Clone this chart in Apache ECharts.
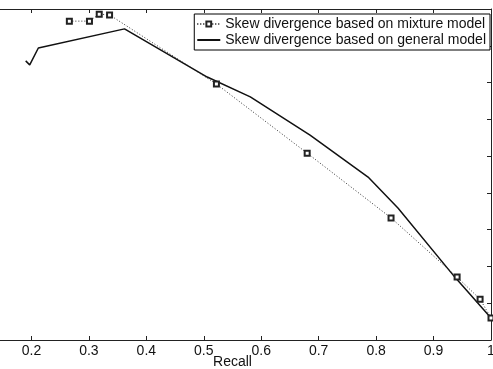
<!DOCTYPE html>
<html>
<head>
<meta charset="utf-8">
<script src="https://cdn.jsdelivr.net/npm/echarts@6/dist/echarts.min.js"></script>
<style>
  html, body { margin: 0; padding: 0; background: #fff; }
  #chart { width: 493px; height: 369px; }
</style>
</head>
<body>
<div id="chart"></div>
<script>
// recall / precision
const mixRecall = [0.266, 0.301, 0.318, 0.336, 0.522, 0.680, 0.826, 0.941, 0.981, 1.0]
const mixPrecision = [0.967, 0.967, 0.986, 0.984, 0.796, 0.608, 0.432, 0.271, 0.211, 0.160]
const genRecall = [0.190, 0.197, 0.212, 0.362, 0.506, 0.581, 0.685, 0.786, 0.838, 0.937, 1.0]
const genPrecision = [0.859, 0.848, 0.894, 0.946, 0.815, 0.761, 0.657, 0.543, 0.459, 0.271, 0.160]
const xTicks = [0.1, 0.2, 0.3, 0.4, 0.5, 0.6, 0.7, 0.8, 0.9, 1]
const seriesNames = ['Skew divergence based on mixture model', 'Skew divergence based on general model']

const pairs = (xs, ys) => xs.map((x, i) => [x, ys[i]])
const font = 'Liberation Sans, Arial, sans-serif'

const chart = echarts.init(document.getElementById('chart'))
chart.setOption({
  animation: false,
  backgroundColor: '#fff',
  // the 0.1 end of the axis sits off the left edge, as in the scan
  grid: { left: -26, right: 2, top: 9, bottom: 29, containLabel: false, outerBoundsMode: 'none' },
  legend: {
    data: [
      { name: seriesNames[0] },
      { name: seriesNames[1], itemStyle: { opacity: 0 } }
    ],
    orient: 'vertical',
    right: 3,
    top: 14,
    itemWidth: 23,
    itemHeight: 6,
    itemGap: 2,
    padding: [3, 4, 3, 2],
    borderColor: '#000',
    borderWidth: 1,
    backgroundColor: '#fff',
    textStyle: { color: '#111', fontFamily: font, fontSize: 14 }
  },
  xAxis: [
    {
      type: 'value',
      min: xTicks[0],
      max: xTicks[xTicks.length - 1],
      interval: 0.1,
      name: 'Recall',
      nameLocation: 'middle',
      nameGap: 15,
      nameMoveOverlap: false,
      nameTextStyle: { color: '#111', fontFamily: font, fontSize: 14, verticalAlign: 'top', lineHeight: 14 },
      axisLine: { lineStyle: { color: '#222', width: 1 } },
      axisTick: { inside: true, length: 4, lineStyle: { color: '#222' } },
      axisLabel: {
        color: '#111', fontFamily: font, fontSize: 14, margin: 4,
        hideOverlap: false,
        formatter: v => v < 0.15 ? '' : (Math.round(v * 10) / 10).toString()
      },
      splitLine: { show: false }
    },
    {
      type: 'value',
      position: 'top',
      min: xTicks[0],
      max: xTicks[xTicks.length - 1],
      interval: 0.1,
      axisLine: { lineStyle: { color: '#222', width: 1 } },
      axisTick: { inside: true, length: 4, lineStyle: { color: '#222' } },
      axisLabel: { show: false },
      splitLine: { show: false }
    }
  ],
  yAxis: {
    type: 'value',
    position: 'right',
    min: 0.1,
    max: 1.0,
    interval: 0.1,
    axisLine: { show: true, lineStyle: { color: '#222', width: 1 } },
    axisTick: { show: true, inside: true, length: 4, lineStyle: { color: '#222' } },
    axisLabel: { show: false },
    splitLine: { show: false }
  },
  series: [
    {
      name: seriesNames[0],
      type: 'line',
      data: pairs(mixRecall, mixPrecision),
      symbol: 'emptyRect',
      symbolSize: 5,
      lineStyle: { color: '#333', width: 1, type: [1, 2] },
      itemStyle: { color: '#222', borderWidth: 1 }
    },
    {
      name: seriesNames[1],
      type: 'line',
      data: pairs(genRecall, genPrecision),
      symbol: 'none',
      lineStyle: { color: '#111', width: 1.5 },
      itemStyle: { color: '#111' }
    }
  ]
})
</script>
</body>
</html>
